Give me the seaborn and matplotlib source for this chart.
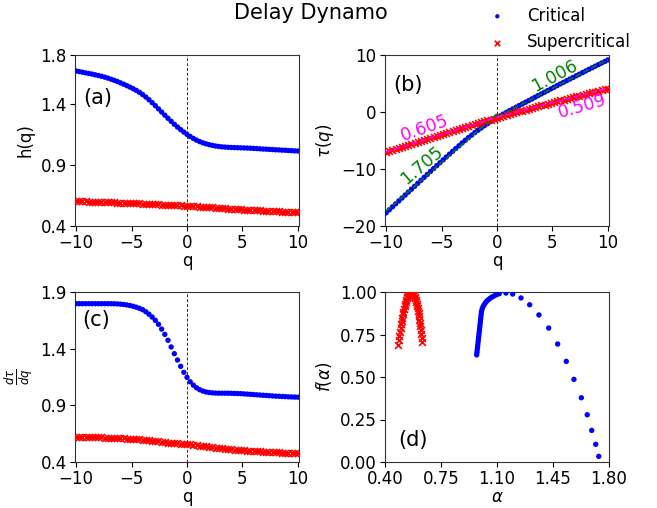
import numpy as np
import matplotlib
matplotlib.use("Agg")
import matplotlib.pyplot as plt
import seaborn as sns

# generalized Hurst exponent grid
q = np.linspace(-10, 10, 71)

h_critical = [
    1.669, 1.664, 1.659, 1.654, 1.649, 1.644, 1.638, 1.632, 1.626, 1.619,
    1.611, 1.602, 1.593, 1.583, 1.572, 1.561, 1.549, 1.537, 1.524, 1.510,
    1.494, 1.476, 1.456, 1.434, 1.410, 1.385, 1.359, 1.333, 1.307, 1.282,
    1.257, 1.233, 1.210, 1.189, 1.169, 1.150, 1.133, 1.117, 1.103, 1.091,
    1.081, 1.073, 1.066, 1.060, 1.055, 1.051, 1.048, 1.046, 1.044, 1.043,
    1.042, 1.041, 1.040, 1.039, 1.038, 1.037, 1.035, 1.034, 1.032, 1.030,
    1.029, 1.027, 1.026, 1.024, 1.023, 1.021, 1.020, 1.018, 1.017, 1.015,
    1.014]

h_supercritical = [
    0.604, 0.603, 0.602, 0.601, 0.600, 0.600, 0.599, 0.598, 0.597, 0.596,
    0.595, 0.594, 0.593, 0.592, 0.591, 0.590, 0.589, 0.588, 0.587, 0.586,
    0.585, 0.584, 0.583, 0.581, 0.580, 0.579, 0.577, 0.576, 0.575, 0.573,
    0.572, 0.571, 0.569, 0.568, 0.567, 0.566, 0.564, 0.562, 0.561, 0.559,
    0.557, 0.556, 0.554, 0.552, 0.550, 0.548, 0.547, 0.545, 0.543, 0.541,
    0.540, 0.538, 0.537, 0.535, 0.534, 0.532, 0.531, 0.529, 0.528, 0.526,
    0.525, 0.523, 0.522, 0.521, 0.519, 0.518, 0.517, 0.515, 0.514, 0.512,
    0.511]

tau_critical = [
    -17.69, -17.16, -16.64, -16.12, -15.61, -15.09, -14.57, -14.06, -13.54, -13.03,
    -12.51, -11.99, -11.47, -10.95, -10.43, -9.92, -9.41, -8.90, -8.40, -7.90,
    -7.40, -6.90, -6.41, -5.92, -5.43, -4.96, -4.49, -4.05, -3.61, -3.20,
    -2.80, -2.41, -2.04, -1.68, -1.33, -1.00, -0.68, -0.36, -0.05, 0.25,
    0.54, 0.84, 1.13, 1.42, 1.71, 2.00, 2.29, 2.59, 2.88, 3.17,
    3.47, 3.76, 4.05, 4.34, 4.64, 4.93, 5.21, 5.50, 5.78, 6.06,
    6.35, 6.63, 6.91, 7.19, 7.48, 7.75, 8.03, 8.31, 8.59, 8.86,
    9.14]

tau_supercritical = [
    -7.04, -6.86, -6.68, -6.49, -6.31, -6.14, -5.96, -5.78, -5.61, -5.43,
    -5.25, -5.07, -4.90, -4.72, -4.55, -4.37, -4.20, -4.02, -3.85, -3.68,
    -3.51, -3.34, -3.17, -2.99, -2.82, -2.65, -2.48, -2.32, -2.15, -1.98,
    -1.82, -1.65, -1.49, -1.32, -1.16, -1.00, -0.84, -0.68, -0.52, -0.36,
    -0.20, -0.05, 0.11, 0.26, 0.41, 0.57, 0.72, 0.87, 1.02, 1.16,
    1.31, 1.46, 1.61, 1.75, 1.90, 2.04, 2.19, 2.33, 2.47, 2.61,
    2.75, 2.89, 3.03, 3.17, 3.30, 3.44, 3.58, 3.71, 3.85, 3.97,
    4.11]

dtau_critical = [
    1.797, 1.797, 1.797, 1.797, 1.797, 1.797, 1.797, 1.797, 1.797, 1.797,
    1.797, 1.797, 1.796, 1.795, 1.793, 1.790, 1.786, 1.781, 1.774, 1.766,
    1.756, 1.744, 1.726, 1.704, 1.679, 1.650, 1.615, 1.573, 1.526, 1.474,
    1.415, 1.356, 1.300, 1.244, 1.191, 1.147, 1.108, 1.078, 1.055, 1.038,
    1.026, 1.018, 1.013, 1.010, 1.008, 1.007, 1.007, 1.007, 1.007, 1.006,
    1.005, 1.004, 1.003, 1.001, 0.999, 0.997, 0.995, 0.993, 0.991, 0.989,
    0.987, 0.985, 0.983, 0.981, 0.980, 0.978, 0.977, 0.975, 0.974, 0.973,
    0.972]

dtau_supercritical = [
    0.623, 0.622, 0.622, 0.621, 0.620, 0.620, 0.619, 0.618, 0.617, 0.616,
    0.615, 0.614, 0.613, 0.611, 0.610, 0.608, 0.607, 0.605, 0.603, 0.601,
    0.599, 0.596, 0.594, 0.591, 0.588, 0.585, 0.581, 0.578, 0.575, 0.572,
    0.569, 0.566, 0.564, 0.562, 0.560, 0.558, 0.555, 0.551, 0.547, 0.544,
    0.540, 0.537, 0.533, 0.530, 0.527, 0.524, 0.521, 0.518, 0.515, 0.513,
    0.510, 0.508, 0.505, 0.503, 0.501, 0.499, 0.497, 0.495, 0.493, 0.491,
    0.489, 0.488, 0.486, 0.485, 0.484, 0.482, 0.481, 0.480, 0.479, 0.477,
    0.476]

# singularity spectra
alpha_critical = [
    0.9730, 0.9748, 0.9765, 0.9783, 0.9801, 0.9818, 0.9836, 0.9854, 0.9871,
    0.9889, 0.9906, 0.9924, 0.9942, 0.9959, 0.9977, 0.9995, 1.0012, 1.0030,
    1.007, 1.013, 1.020, 1.028, 1.037, 1.047, 1.058, 1.070, 1.084, 1.098,
    1.114, 1.156, 1.198, 1.250, 1.304, 1.362, 1.423, 1.479, 1.533, 1.581,
    1.627, 1.664, 1.692, 1.717, 1.736]
f_critical = [
    0.630, 0.645, 0.660, 0.675, 0.690, 0.705, 0.720, 0.735, 0.750,
    0.765, 0.780, 0.795, 0.810, 0.825, 0.840, 0.855, 0.870, 0.885,
    0.900, 0.914, 0.926, 0.937, 0.947, 0.956, 0.964, 0.971, 0.978, 0.985,
    0.990, 0.994, 0.988, 0.965, 0.925, 0.865, 0.788, 0.694, 0.592, 0.486,
    0.378, 0.278, 0.186, 0.104, 0.033]

alpha_supercritical = [
    0.4830, 0.4866, 0.4901, 0.4937, 0.4973, 0.5009, 0.5044, 0.5080, 0.5116,
    0.5151, 0.5187, 0.5223, 0.5258, 0.5294, 0.5330, 0.5366, 0.5401, 0.5437,
    0.5473, 0.5508, 0.5544, 0.5580, 0.5615, 0.5650, 0.5680, 0.5709, 0.5739,
    0.5768, 0.5798, 0.5827, 0.5857, 0.5887, 0.5916, 0.5946, 0.5975, 0.6005,
    0.6034, 0.6064, 0.6094, 0.6123, 0.6153, 0.6182, 0.6212, 0.6241, 0.6271,
    0.6300, 0.6330]
f_supercritical = [
    0.688, 0.715, 0.740, 0.764, 0.787, 0.809, 0.830, 0.849, 0.868,
    0.884, 0.901, 0.915, 0.929, 0.941, 0.952, 0.963, 0.971, 0.979,
    0.985, 0.991, 0.995, 0.998, 0.999, 1.000, 0.999, 0.998, 0.995,
    0.991, 0.986, 0.980, 0.973, 0.964, 0.955, 0.944, 0.932, 0.919,
    0.905, 0.890, 0.874, 0.857, 0.838, 0.819, 0.798, 0.776, 0.753,
    0.729, 0.704]

# slopes of the linear fits of tau(q) on each side of q = 0
slope_crit_neg, slope_crit_pos = 1.705, 1.006
slope_super_neg, slope_super_pos = 0.605, 0.509

sns.set_theme(style="ticks", rc={
    "axes.edgecolor": "0.2", "text.color": "black", "axes.labelcolor": "black",
    "xtick.color": "black", "ytick.color": "black", "axes.linewidth": 0.8,
    "xtick.major.width": 0.8, "ytick.major.width": 0.8,
    "xtick.major.size": 3.5, "ytick.major.size": 3.5,
})
plt.rcParams["font.family"] = ["DejaVu Sans"]
plt.rcParams["mathtext.fontset"] = "dejavusans"

FS = 12
fig = plt.figure(figsize=(6.57, 5.08), dpi=100)
W, H = 657, 508


def place(x0, y0, x1, y1):
    return fig.add_axes([x0 / W, 1 - y1 / H, (x1 - x0) / W, (y1 - y0) / H])


ax_a = place(75, 55, 299, 226)
ax_b = place(385, 55, 609, 226)
ax_c = place(75, 292, 299, 462)
ax_d = place(385, 292, 609, 462)

crit_kw = dict(color="blue", marker="o", s=15, edgecolor="none", linewidth=0, zorder=3)
super_kw = dict(color="red", marker="x", s=24, linewidth=1.2, zorder=3)

# (a) h(q)
sns.scatterplot(x=q, y=h_critical, ax=ax_a, label="Critical", legend=False, **crit_kw)
sns.scatterplot(x=q, y=h_supercritical, ax=ax_a, label="Supercritical", legend=False, **super_kw)
ax_a.set_ylim(0.4, 1.8)
ax_a.set_yticks([0.4, 0.9, 1.4, 1.8])
ax_a.set_ylabel("h(q)", fontsize=FS)

# (b) tau(q) with linear fits
sns.scatterplot(x=q, y=tau_critical, ax=ax_b, **crit_kw)
sns.scatterplot(x=q, y=tau_supercritical, ax=ax_b, **super_kw)
q_arr = np.asarray(q)
neg, pos = q_arr <= 0, q_arr >= 0
for tau, s_neg, s_pos, col in [
    (np.asarray(tau_critical), slope_crit_neg, slope_crit_pos, "green"),
    (np.asarray(tau_supercritical), slope_super_neg, slope_super_pos, "magenta"),
]:
    for mask, s in [(neg, s_neg), (pos, s_pos)]:
        b = np.mean(tau[mask] - s * q_arr[mask])
        ax_b.plot(q_arr[mask], s * q_arr[mask] + b, ls="--", color=col, lw=1.2, zorder=4)
ax_b.set_ylim(-20, 10)
ax_b.set_yticks([-20, -10, 0, 10])
ax_b.set_ylabel(r"$\tau(q)$", fontsize=FS)
ax_b.text(5.24, 6.3, f"{slope_crit_pos:.3f}", color="green", fontsize=12.5,
          rotation=28, ha="center", va="center", zorder=5)
ax_b.text(-6.82, -9.3, f"{slope_crit_neg:.3f}", color="green", fontsize=12.5,
          rotation=40, ha="center", va="center", zorder=5)
ax_b.text(-6.52, -2.87, f"{slope_super_neg:.3f}", color="magenta", fontsize=12.5,
          rotation=19, ha="center", va="center", zorder=5)
ax_b.text(7.71, 0.93, f"{slope_super_pos:.3f}", color="magenta", fontsize=12.5,
          rotation=16, ha="center", va="center", zorder=5)

# (c) d tau / dq
sns.scatterplot(x=q, y=dtau_critical, ax=ax_c, **crit_kw)
sns.scatterplot(x=q, y=dtau_supercritical, ax=ax_c, **super_kw)
ax_c.set_ylim(0.4, 1.9)
ax_c.set_yticks([0.4, 0.9, 1.4, 1.9])
ax_c.set_ylabel(r"$\frac{d\tau}{dq}$", fontsize=FS)

for ax in (ax_a, ax_b, ax_c):
    ax.axvline(0, color="0.15", ls=(0, (3, 2)), lw=0.7, zorder=2)
    ax.set_xlim(-10.1, 10.1)
    ax.set_xticks([-10, -5, 0, 5, 10])
    ax.set_xlabel("q", fontsize=FS, labelpad=0)

# (d) f(alpha)
sns.scatterplot(x=alpha_critical, y=f_critical, ax=ax_d, **crit_kw)
sns.scatterplot(x=alpha_supercritical, y=f_supercritical, ax=ax_d, **super_kw)
ax_d.set_xlim(0.4, 1.8)
ax_d.set_ylim(0.0, 1.0)
ax_d.set_xticks([0.40, 0.75, 1.10, 1.45, 1.80])
ax_d.set_xticklabels(["0.40", "0.75", "1.10", "1.45", "1.80"])
ax_d.set_yticks([0.0, 0.25, 0.5, 0.75, 1.0])
ax_d.set_yticklabels(["0.00", "0.25", "0.50", "0.75", "1.00"])
ax_d.set_xlabel(r"$\alpha$", fontsize=FS, labelpad=0)
ax_d.set_ylabel(r"$f(\alpha)$", fontsize=FS)

for ax in (ax_a, ax_b, ax_c, ax_d):
    ax.tick_params(labelsize=FS, direction="out", pad=2.5)
    for sp in ax.spines.values():
        sp.set_visible(True)

ax_a.text(0.035, 0.75, "(a)", transform=ax_a.transAxes, fontsize=15, va="center")
ax_b.text(0.037, 0.825, "(b)", transform=ax_b.transAxes, fontsize=15, va="center")
ax_c.text(0.034, 0.835, "(c)", transform=ax_c.transAxes, fontsize=15, va="center")
ax_d.text(0.057, 0.13, "(d)", transform=ax_d.transAxes, fontsize=15, va="center")

fig.suptitle("Delay Dynamo", x=0.473, y=0.995, fontsize=15, va="top")

handles = ax_a.collections[:2]
fig.legend(handles, ["Critical", "Supercritical"], loc="upper left",
           bbox_to_anchor=(474 / W, 1.0), frameon=False, fontsize=FS,
           markerscale=0.8, handletextpad=0.8, labelspacing=0.5,
           borderaxespad=0.0)

fig.savefig("out.png", dpi=100)
